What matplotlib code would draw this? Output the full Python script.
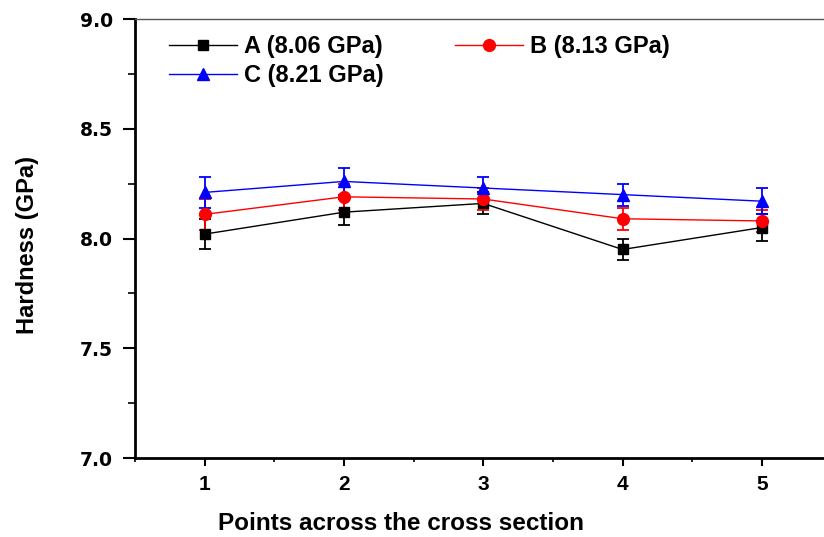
import numpy as np
import matplotlib.pyplot as plt
from matplotlib.ticker import MultipleLocator

# Points across the cross section
points = [1, 2, 3, 4, 5]

# Hardness values (GPa) and error bars for each sample
hard_a = [8.02, 8.12, 8.16, 7.95, 8.05]
err_a = [0.07, 0.06, 0.05, 0.05, 0.06]
hard_b = [8.11, 8.19, 8.18, 8.09, 8.08]
err_b = [0.07, 0.06, 0.05, 0.05, 0.05]
hard_c = [8.21, 8.26, 8.23, 8.20, 8.17]
err_c = [0.07, 0.06, 0.05, 0.05, 0.06]

labels = ['A (8.06 GPa)', 'B (8.13 GPa)', 'C (8.21 GPa)']

plt.rcParams['font.family'] = ['Liberation Sans', 'DejaVu Sans']

fig = plt.figure(figsize=(8.24, 5.37), dpi=100)
ax = fig.add_axes([0.1638, 0.1471, 0.8453, 0.8175])

la = ax.errorbar(points, hard_a, yerr=err_a, color='black', marker='s', ms=7,
                 lw=1, elinewidth=1.3, capsize=4, capthick=1.3, label=labels[0])
lb = ax.errorbar(points, hard_b, yerr=err_b, color='red', marker='o', ms=8.5,
                 lw=1, elinewidth=1.3, capsize=4, capthick=1.3, label=labels[1])
lc = ax.errorbar(points, hard_c, yerr=err_c, color='blue', marker='^', ms=9,
                 lw=1, elinewidth=1.3, capsize=4, capthick=1.3, label=labels[2])

ax.set_xlim(0.5, 5.5)
ax.set_ylim(7.0, 9.0)
ax.xaxis.set_major_locator(MultipleLocator(1))
ax.xaxis.set_minor_locator(MultipleLocator(0.5))
ax.yaxis.set_major_locator(MultipleLocator(0.5))
ax.yaxis.set_minor_locator(MultipleLocator(0.25))

ax.spines['right'].set_visible(False)
ax.spines['left'].set_linewidth(2)
ax.spines['bottom'].set_linewidth(2)
ax.spines['top'].set_linewidth(1)
ax.spines['top'].set_color('#555555')

ax.tick_params(axis='y', which='major', direction='out', length=9, width=1.5, pad=7)
ax.tick_params(axis='y', which='minor', direction='out', length=5, width=1.2)
ax.tick_params(axis='x', which='major', direction='out', length=6, width=1.5, pad=6)
ax.tick_params(axis='x', which='minor', direction='out', length=3, width=1.2)

for t in ax.get_yticklabels():
    t.set_fontfamily('DejaVu Sans')
    t.set_fontweight('bold')
    t.set_fontsize(13.5)
for t in ax.get_xticklabels():
    t.set_fontweight('bold')
    t.set_fontsize(15)

ax.set_xlabel('Points across the cross section', fontsize=17.5, fontweight='bold')
ax.xaxis.set_label_coords(0.3826, -0.123)
ax.set_ylabel('Hardness (GPa)', fontsize=17, fontweight='bold')
ax.yaxis.set_label_coords(-0.138, 0.485)

# legend shows only line + marker, no error bars
leg = ax.legend([la[0], lc[0], lb[0]], [labels[0], labels[2], labels[1]], ncol=2,
                loc='upper left', bbox_to_anchor=(0.035, 0.985), frameon=False,
                prop={'weight': 'bold', 'size': 17}, handlelength=2.9,
                handletextpad=0.3, columnspacing=3.0, labelspacing=0.25,
                borderaxespad=0)

fig.savefig('out.png', dpi=100)
